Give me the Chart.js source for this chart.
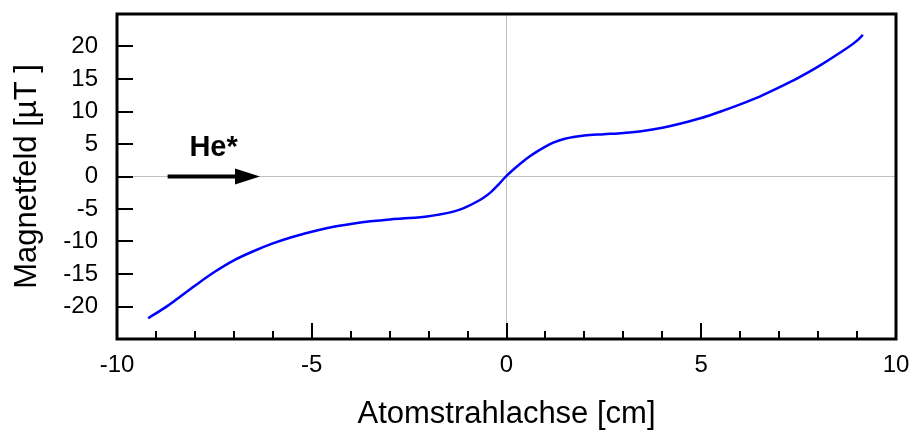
<!DOCTYPE html>
<html>
<head>
<meta charset="utf-8">
<script src="https://cdn.jsdelivr.net/npm/chart.js@4"></script>
<style>
  html, body { margin: 0; padding: 0; background: #fff; }
  #wrap { width: 914px; height: 431px; }
</style>
</head>
<body>
<div id="wrap"><canvas id="chart"></canvas></div>
<script>
// position along the atom beam axis [cm]
const positions = [-9.2, -8.7, -8.0, -7.5, -7.0, -6.5, -6.0, -5.5, -5.0, -4.5, -4.0, -3.5, -3.0, -2.5, -2.0, -1.5, -1.2, -1.0, -0.8, -0.6, -0.4, -0.2, 0.0, 0.2, 0.4, 0.6, 0.8, 1.0, 1.2, 1.5, 2.0, 2.5, 3.0, 3.5, 4.0, 4.5, 5.0, 5.5, 6.0, 6.5, 7.0, 7.5, 8.0, 8.5, 9.0, 9.15];
// magnetic field [µT]
const field = [-21.8, -19.9, -16.8, -14.7, -12.9, -11.5, -10.3, -9.3, -8.5, -7.8, -7.3, -6.9, -6.6, -6.4, -6.1, -5.6, -5.1, -4.6, -4.0, -3.3, -2.4, -1.2, 0.1, 1.2, 2.2, 3.1, 3.9, 4.6, 5.2, 5.8, 6.3, 6.5, 6.7, 7.0, 7.5, 8.2, 9.0, 10.0, 11.1, 12.3, 13.7, 15.2, 16.9, 18.8, 20.9, 21.8];

const xTicks = [-10, -5, 0, 5, 10];
const yTicks = [-20, -15, -10, -5, 0, 5, 10, 15, 20];

// "He*" beam direction marker (data units)
const arrowFrom = -8.7, arrowTo = -6.33, arrowHeadLen = 0.64;
const labelX = -7.52, labelY = 3.1;

const FONT = "'Liberation Sans', Arial, sans-serif";

function noScalePadding(s) {
  s.paddingTop = 0; s.paddingBottom = 0; s.paddingLeft = 0; s.paddingRight = 0;
}

const frameAndTicks = {
  id: 'frameAndTicks',
  afterDraw(chart) {
    const { ctx, chartArea: a, scales: { x, y } } = chart;
    ctx.save();
    ctx.strokeStyle = '#000';
    // inward tick marks
    ctx.lineWidth = 2;
    ctx.beginPath();
    for (let v = -9; v <= 9; v++) {
      const px = Math.round(x.getPixelForValue(v));
      const len = v % 5 === 0 ? 16 : 8;
      ctx.moveTo(px, a.bottom);
      ctx.lineTo(px, a.bottom - len);
    }
    yTicks.forEach(v => {
      const py = Math.round(y.getPixelForValue(v));
      ctx.moveTo(a.left, py);
      ctx.lineTo(a.left + 16, py);
    });
    ctx.stroke();
    // frame
    ctx.lineWidth = 3;
    ctx.strokeRect(a.left, a.top, a.right - a.left, a.bottom - a.top);

    // beam arrow
    const y0 = y.getPixelForValue(0);
    const x1 = x.getPixelForValue(arrowFrom);
    const x2 = x.getPixelForValue(arrowTo);
    const xh = x.getPixelForValue(arrowTo - arrowHeadLen);
    ctx.lineWidth = 4;
    ctx.beginPath();
    ctx.moveTo(x1, y0);
    ctx.lineTo(xh + 1, y0);
    ctx.stroke();
    ctx.fillStyle = '#000';
    ctx.beginPath();
    ctx.moveTo(x2, y0);
    ctx.lineTo(xh, y0 - 8);
    ctx.lineTo(xh, y0 + 8);
    ctx.closePath();
    ctx.fill();

    ctx.font = 'bold 29px ' + FONT;
    ctx.textAlign = 'center';
    ctx.textBaseline = 'alphabetic';
    ctx.fillText('He*', x.getPixelForValue(labelX), y.getPixelForValue(labelY));
    ctx.restore();
  }
};

new Chart(document.getElementById('chart'), {
  type: 'line',
  data: {
    datasets: [{
      data: positions.map((p, i) => ({ x: p, y: field[i] })),
      borderColor: '#0000ff',
      borderWidth: 2.5,
      pointRadius: 0,
      cubicInterpolationMode: 'monotone',
      fill: false
    }]
  },
  options: {
    responsive: true,
    maintainAspectRatio: false,
    animation: false,
    layout: { padding: { top: 14, right: 18, left: 0, bottom: 0 } },
    plugins: { legend: { display: false }, tooltip: { enabled: false } },
    scales: {
      x: {
        type: 'linear',
        min: -10, max: 10,
        afterBuildTicks: s => { s.ticks = xTicks.map(v => ({ value: v })); },
        afterFit: s => { s.height = 92; noScalePadding(s); },
        border: { display: false },
        grid: {
          drawTicks: false,
          color: c => c.tick && c.tick.value === 0 ? '#c0c0c0' : 'rgba(0,0,0,0)',
          lineWidth: 1
        },
        ticks: { color: '#000', padding: 12, maxRotation: 0, font: { family: FONT, size: 24 } },
        title: {
          display: true, text: 'Atomstrahlachse [cm]', color: '#000',
          font: { family: FONT, size: 31, lineHeight: 1 }, padding: { bottom: 1, top: 0 }
        }
      },
      y: {
        min: -25, max: 25,
        afterBuildTicks: s => { s.ticks = yTicks.map(v => ({ value: v })); },
        afterFit: s => { s.width = 117; noScalePadding(s); },
        border: { display: false },
        grid: {
          drawTicks: false,
          color: c => c.tick && c.tick.value === 0 ? '#c0c0c0' : 'rgba(0,0,0,0)',
          lineWidth: 1
        },
        ticks: { color: '#000', padding: 19, font: { family: FONT, size: 24 } },
        title: {
          display: true, text: 'Magnetfeld [µT ]', color: '#000',
          font: { family: FONT, size: 31, lineHeight: 1 }, padding: { top: 12, bottom: 0 }
        }
      }
    }
  },
  plugins: [frameAndTicks]
});
</script>
</body>
</html>
